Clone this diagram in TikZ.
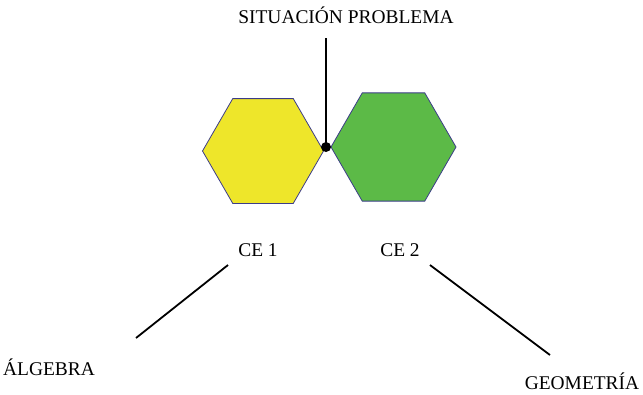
\documentclass[tikz,border=0pt]{standalone}
\usepackage{fontspec}
\setmainfont{Liberation Serif}
\usetikzlibrary{shapes.geometric}
\definecolor{hexyellow}{HTML}{EEE62A}
\definecolor{hexgreen}{HTML}{5CBA47}
\definecolor{hexedge}{HTML}{3C3C88}
\begin{document}
\begin{tikzpicture}[x=1bp,y=-1bp,
  lbl/.style={font=\fontsize{19.5}{22}\selectfont, inner sep=0pt, anchor=base},
  hexa/.style={regular polygon, regular polygon sides=6, draw=hexedge, line width=0.8bp, inner sep=0pt, outer sep=0pt},
  link/.style={line width=1.8bp, black}]
\useasboundingbox (0,0) rectangle (643,394);
\node[hexa, fill=hexyellow, minimum size=121bp] (ce1hex) at (263,151) {};
\node[hexa, fill=hexgreen, minimum size=125bp] (ce2hex) at (393.5,147) {};
\node[lbl] (title) at (346,23) {SITUACIÓN PROBLEMA};
\coordinate (top) at (325,38);
\node[circle, fill=black, inner sep=0pt, minimum size=10bp] (dot) at (326,147) {};
\draw[link] (dot.center) -- (dot.center |- top);
\node[lbl] (ce1) at (258,256) {CE 1};
\node[lbl] (ce2) at (400,256) {CE 2};
\node[lbl] (alg) at (49,375) {ÁLGEBRA};
\node[lbl] (geo) at (582,389) {GEOMETRÍA};
\coordinate (a1) at (228,265);
\coordinate (a2) at (136,338);
\coordinate (g1) at (430,265);
\coordinate (g2) at (550,355);
\draw[link] (a1) -- (a2);
\draw[link] (g1) -- (g2);
\end{tikzpicture}
\end{document}
